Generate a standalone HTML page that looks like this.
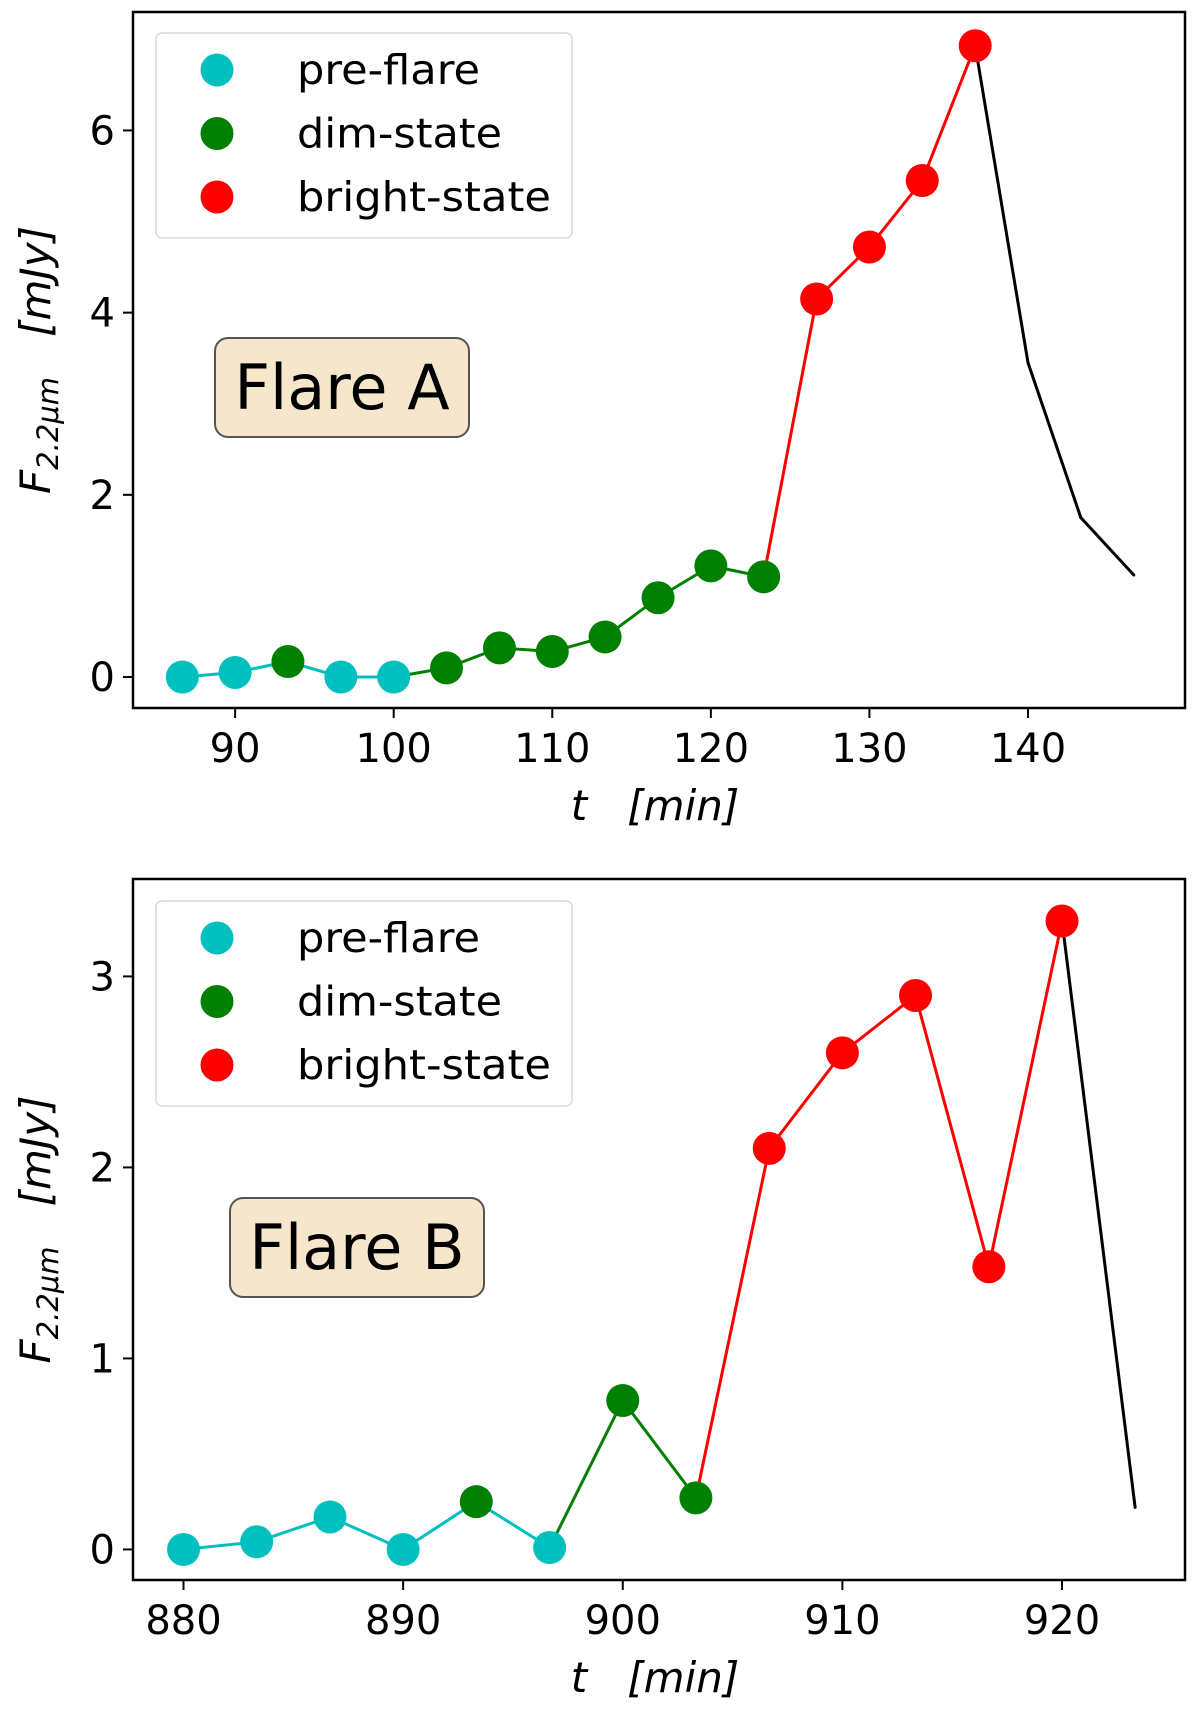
<!DOCTYPE html>
<html><head><meta charset="utf-8">
<style>
html,body{margin:0;padding:0;background:#fff;}
svg{display:block;font-family:"DejaVu Sans","Liberation Sans",sans-serif;}
</style></head>
<body>
<svg id="chart" width="1200" height="1717" viewBox="0 0 1200 1717" xmlns="http://www.w3.org/2000/svg"></svg>
<script>
// ---- Flare A data ----
const timesA = [86.67,90,93.33,96.67,100,103.33,106.67,110,113.33,116.67,120,123.33,126.67,130,133.33,136.67,140,143.33,146.67];
const fluxA  = [0,0.05,0.17,0,0,0.1,0.32,0.28,0.44,0.87,1.22,1.1,4.15,4.72,5.45,6.93,3.45,1.75,1.12];
const stateA = ['pre','pre','dim','pre','pre','dim','dim','dim','dim','dim','dim','dim','bright','bright','bright','bright','none','none','none'];
const segA   = ['pre','pre','pre','pre','dim','dim','dim','dim','dim','dim','dim','bright','bright','bright','bright','none','none','none'];
const xTicksA = [90,100,110,120,130,140];
const yTicksA = [0,2,4,6];
// ---- Flare B data ----
const timesB = [880,883.33,886.67,890,893.33,896.67,900,903.33,906.67,910,913.33,916.67,920,923.33];
const fluxB  = [0,0.04,0.17,0,0.25,0.01,0.78,0.27,2.1,2.6,2.9,1.48,3.29,0.22];
const stateB = ['pre','pre','pre','pre','dim','pre','dim','dim','bright','bright','bright','bright','bright','none'];
const segB   = ['pre','pre','pre','pre','pre','dim','dim','bright','bright','bright','bright','bright','none'];
const xTicksB = [880,890,900,910,920];
const yTicksB = [0,1,2,3];

const colors = {pre:'#00bfbf', dim:'#008000', bright:'#ff0000', none:'#000000'};
const NS='http://www.w3.org/2000/svg';
const svg=document.getElementById('chart');
function mk(tag,attrs,parent){const e=document.createElementNS(NS,tag);for(const k in attrs)e.setAttribute(k,attrs[k]);(parent||svg).appendChild(e);return e;}

function panel(cfg){
  const g=mk('g',{});
  
  
  const L=133,R=1185,T=cfg.top,B=cfg.bottom;
  const sx=v=>L+(v-cfg.xmin)/(cfg.xmax-cfg.xmin)*(R-L);
  const sy=v=>B-(v-cfg.ymin)/(cfg.ymax-cfg.ymin)*(B-T);
  for(let i=0;i<cfg.seg.length;i++){
    const l=mk('line',{x1:sx(cfg.t[i]),y1:sy(cfg.f[i]),x2:sx(cfg.t[i+1]),y2:sy(cfg.f[i+1]),stroke:colors[cfg.seg[i]],'stroke-width':3,'stroke-linecap':'round'},g);
    
    
  }
  for(let i=0;i<cfg.t.length;i++){
    if(cfg.st[i]==='none')continue;
    const c=mk('circle',{cx:sx(cfg.t[i]),cy:sy(cfg.f[i]),r:16.5,fill:colors[cfg.st[i]]},g);
    
    
  }
  const fr=mk('rect',{x:L,y:T,width:R-L,height:B-T,fill:'none',stroke:'#000','stroke-width':2.5},g);
  
  
  cfg.xt.forEach(v=>{
    mk('line',{x1:sx(v),y1:B,x2:sx(v),y2:B+10,stroke:'#000','stroke-width':2},g);
    const t=mk('text',{x:sx(v),y:B+54,'font-size':40,'text-anchor':'middle',fill:'#000'},g);
    t.textContent=v;
    
    
  });
  cfg.yt.forEach(v=>{
    mk('line',{x1:L-10,y1:sy(v),x2:L,y2:sy(v),stroke:'#000','stroke-width':2},g);
    const t=mk('text',{x:L-18,y:sy(v)+14,'font-size':40,'text-anchor':'end',fill:'#000'},g);
    t.textContent=v;
    
    
  });
  const xl=mk('text',{x:655,y:B+112,'font-size':42,'text-anchor':'middle','font-style':'italic',fill:'#000',style:'white-space:pre'},g);
  xl.textContent='t   [min]';
  
  
  const yc=(T+B)/2;
  const yl=mk('text',{x:0,y:0,'font-size':42,'text-anchor':'middle','font-style':'italic',fill:'#000',style:'white-space:pre',transform:`translate(50,${yc}) rotate(-90)`},g);
  yl.innerHTML='F<tspan font-size="29" dy="8">2.2μm</tspan><tspan dy="-8">   [mJy]</tspan>';
  
  
  const lg=mk('g',{},g);
  
  
  mk('rect',{x:156,y:cfg.legTop,width:416,height:205,rx:6,fill:'#fff',stroke:'#d8d8d8','stroke-width':1.5},lg);
  [['pre','pre-flare'],['dim','dim-state'],['bright','bright-state']].forEach((e,i)=>{
    const cy=cfg.legTop+37+i*63.5;
    const m=mk('circle',{cx:217,cy:cy,r:16.5,fill:colors[e[0]]},lg);
    
    
    const t=mk('text',{x:297,y:cy+14,'font-size':41,fill:'#000',textLength:e[0]==='bright'?254:(e[0]==='pre'?183:205),lengthAdjust:'spacingAndGlyphs'},lg);
    t.textContent=e[1];
    
    
  });
  const ab=mk('g',{},g);
  
  
  mk('rect',{x:cfg.box[0],y:cfg.box[1],width:254,height:99,rx:13,fill:'#f5e6cc',stroke:'#555','stroke-width':2},ab);
  const at=mk('text',{x:cfg.box[0]+127,y:cfg.box[1]+71,'font-size':62,'text-anchor':'middle',fill:'#000'},ab);
  at.textContent=cfg.label;
}

panel({name:'flare-a-panel',top:12,bottom:708,xmin:83.56,xmax:149.9,ymin:-0.34,ymax:7.3,
  t:timesA,f:fluxA,st:stateA,seg:segA,xt:xTicksA,yt:yTicksA,legTop:33,box:[215,338],label:'Flare A'});
panel({name:'flare-b-panel',top:879,bottom:1580,xmin:877.7,xmax:925.6,ymin:-0.16,ymax:3.51,
  t:timesB,f:fluxB,st:stateB,seg:segB,xt:xTicksB,yt:yTicksB,legTop:901,box:[230,1198],label:'Flare B'});
</script>
</body></html>
